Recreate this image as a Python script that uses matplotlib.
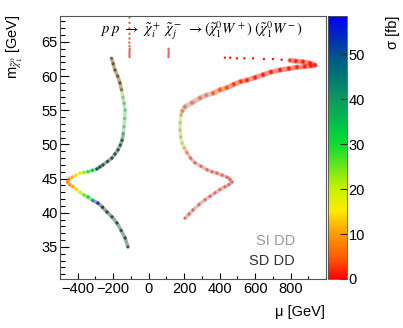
import numpy as np
import matplotlib
matplotlib.use("Agg")
import matplotlib.pyplot as plt
from matplotlib.colors import LinearSegmentedColormap, Normalize
from matplotlib.collections import LineCollection
from matplotlib.ticker import MultipleLocator, FixedLocator

plt.rcParams["font.family"] = ["Liberation Sans", "DejaVu Sans"]
plt.rcParams["mathtext.fontset"] = "stix"

# ---- data: (mu [GeV], m_chi [GeV], sigma [fb], DD flag)
# left branch (mu < 0), bottom to top
left_mu = [-117, -133, -155, -179, -207, -235, -260, -286, -315, -342, -365,
           -387, -407, -427, -445, -458, -450, -432, -410, -387, -365, -342,
           -318, -292, -275, -258, -232, -207, -190, -173, -160, -150, -143,
           -139, -135, -133, -138, -145, -153, -162, -175, -190, -200, -209]
left_m = [35.0, 36.3, 37.4, 38.5, 39.4, 40.1, 40.8, 41.4, 41.8, 42.3, 42.6,
          43.0, 43.4, 43.8, 44.1, 44.5, 44.9, 45.2, 45.5, 45.8, 45.9, 46.0,
          46.2, 46.4, 46.7, 47.0, 47.5, 48.0, 48.6, 49.2, 49.9, 50.6, 51.6,
          52.6, 53.8, 55.0, 56.0, 56.9, 58.0, 59.0, 60.0, 60.9, 61.8, 62.6]
left_sigma = [40, 40, 40, 40, 40, 48, 52, 55, 34, 30, 23,
              16, 13, 10, 9, 8, 9, 12, 15, 20, 24, 30,
              35, 52, 40, 40, 40, 40, 40, 40, 35, 32, 30,
              30, 30, 30, 30, 25, 10, 10, 10, 10, 10, 10]
left_dd = ["SD"] * 7 + [""] * 16 + ["SD"] * 9 + ["SI"] * 6 + ["SD"] * 6

# right branch (mu > 0), bottom to top up to the turn at ~54 GeV
right_mu = [205, 228, 250, 284, 318, 346, 374, 402, 430, 452, 470, 458, 442,
            414, 385, 357, 329, 295, 261, 236, 216, 200, 188, 181, 177, 178,
            182, 190]
right_m = [39.2, 39.8, 40.4, 41.2, 41.9, 42.4, 42.9, 43.4, 43.8, 44.1, 44.5,
           44.9, 45.2, 45.5, 45.8, 46.0, 46.3, 46.8, 47.3, 48.0, 48.8, 49.5,
           50.2, 51.1, 52.1, 53.2, 54.3, 54.9]
right_sigma = [1] * 20 + [6, 16, 20, 22, 22, 20, 10, 4]
right_dd = ["SI"] * 28

# red band running out to the tip at large mu
band_mu = [190, 205, 245, 290, 325, 363, 402, 440, 480, 520, 554, 600, 645,
           690, 741, 790, 836, 880, 915, 938, 910, 870, 830, 797]
band_m = [54.9, 55.5, 56.1, 56.8, 57.2, 57.5, 58.0, 58.3, 58.8, 59.2, 59.4,
          59.8, 60.2, 60.6, 60.9, 61.1, 61.3, 61.4, 61.5, 61.6, 61.9, 62.1,
          62.2, 62.3]
band_sigma = [4, 3, 2, 2, 3, 4, 4, 3, 2, 2, 1, 1, 1, 1, 1, 1, 1, 1, 1, 1,
              1, 1, 1, 1]
band_dd = ["SI"] * 5 + [""] * 19

# sparse points
sparse_mu = [750, 701, 650, 589, 540, 498, 460, 430,
             -108, -108, -108, -108, -107, -108, -109, -108, -108, -109,
             -108, -108,
             112, 112, 113, 112, 112]
sparse_m = [62.4, 62.5, 62.5, 62.6, 62.6, 62.6, 62.7, 62.7,
            62.8, 63.1, 63.4, 63.7, 64.0, 64.4, 64.9, 65.5, 66.2, 67.0,
            67.8, 68.6,
            62.8, 63.1, 63.4, 63.7, 64.0]
sparse_sigma = [1] * 8 + [1] * 17
sparse_dd = [""] * 8 + ["SI"] * 17

sigma_max = 58.5

# ROOT-like rainbow palette, red at 0 -> blue at top
palette_pos = [0, 5, 10, 15, 20, 25, 30, 35, 40, 45, 50, 55, 58.5]
palette_rgb = [(1.0, 0.0, 0.0), (1.0, 0.38, 0.0), (1.0, 0.6, 0.0),
               (1.0, 0.92, 0.0), (0.78, 0.95, 0.0), (0.42, 0.9, 0.1),
               (0.05, 0.86, 0.2), (0.0, 0.75, 0.3), (0.05, 0.6, 0.36),
               (0.0, 0.47, 0.45), (0.0, 0.32, 0.55), (0.0, 0.12, 0.8),
               (0.0, 0.0, 1.0)]
cmap = LinearSegmentedColormap.from_list(
    "rootrainbow", [(p / sigma_max, c) for p, c in zip(palette_pos, palette_rgb)])
norm = Normalize(0, sigma_max)

overlay = {"SI": (np.array([0.72, 0.70, 0.70]), 0.55),
           "SD": (np.array([0.18, 0.18, 0.18]), 0.7)}


def point_colors(sigma, dd):
    cols = cmap(norm(np.asarray(sigma, float)))
    for i, flag in enumerate(dd):
        if flag:
            grey, a = overlay[flag]
            cols[i, :3] = (1 - a) * cols[i, :3] + a * grey
    return cols


def draw_curve(ax, mu, m, sigma, dd, lw):
    cols = point_colors(sigma, dd)
    pts = np.column_stack([mu, m])
    segs = np.stack([pts[:-1], pts[1:]], axis=1)
    lc = LineCollection(segs, colors=cols[:-1], linewidths=lw, alpha=0.45,
                        capstyle="round")
    ax.add_collection(lc)
    ax.scatter(mu, m, s=4, c=cols, linewidths=0, alpha=0.9)


fig = plt.figure(figsize=(4.03, 3.28), dpi=100)
ax = fig.add_axes([60 / 403, 1 - 279 / 328, 266 / 403, 263 / 328])
cax = fig.add_axes([328 / 403, 1 - 279 / 328, 18.5 / 403, 263 / 328])

draw_curve(ax, left_mu, left_m, left_sigma, left_dd, 2.6)
draw_curve(ax, right_mu, right_m, right_sigma, right_dd, 2.6)
draw_curve(ax, band_mu, band_m, band_sigma, band_dd, 3.6)
ax.scatter(sparse_mu, sparse_m, s=3, c=point_colors(sparse_sigma, sparse_dd),
           linewidths=0)

ax.set_xlim(-500, 1000)
ax.set_ylim(30.3, 68.8)
ax.xaxis.set_major_locator(FixedLocator([-400, -200, 0, 200, 400, 600, 800]))
ax.xaxis.set_minor_locator(MultipleLocator(100))
ax.yaxis.set_major_locator(MultipleLocator(5))
ax.yaxis.set_minor_locator(MultipleLocator(1))
ax.tick_params(axis="both", which="both", direction="in", top=False,
               right=False, labelsize=10.5, colors="black", width=0.8)
ax.tick_params(axis="y", which="major", length=6.5, pad=1.5)
ax.tick_params(axis="y", which="minor", length=3.5)
ax.tick_params(axis="x", which="major", length=4.0, pad=2)
ax.tick_params(axis="x", which="minor", length=2.0)
for sp in ax.spines.values():
    sp.set_color("#555555")
    sp.set_linewidth(0.8)

ax.text(0.15, 0.943,
        r"$p\ p\ \rightarrow\ \tilde{\chi}_i^+\ \tilde{\chi}_j^-\ \rightarrow"
        r"(\tilde{\chi}_1^0 W^+)\ (\tilde{\chi}_1^0 W^-)$",
        transform=ax.transAxes, ha="left", va="center", fontsize=10.5)
ax.text(0.883, 0.1445, "SI DD", color="#999999", fontsize=10.5,
        transform=ax.transAxes, ha="right", va="center")
ax.text(0.883, 0.068, "SD DD", color="#333333", fontsize=10.5,
        transform=ax.transAxes, ha="right", va="center")

fig.text(15 / 403, 1 - 15 / 328, r"m$_{\tilde{\chi}_1^0}$ [GeV]", rotation=90,
         ha="center", va="top", fontsize=10.5)
fig.text(325 / 403, 1 - 312 / 328, "μ [GeV]", ha="right", va="center",
         fontsize=10.5)
fig.text(393 / 403, 1 - 16 / 328, "σ [fb]", rotation=90, ha="center",
         va="top", fontsize=10.5)

cb = fig.colorbar(plt.cm.ScalarMappable(norm=norm, cmap=cmap), cax=cax)
cb.outline.set_linewidth(0.6)
cb.outline.set_edgecolor("#555555")
cb.set_ticks([0, 10, 20, 30, 40, 50])
cax.tick_params(direction="in", length=5, width=0.8, labelsize=10.5, pad=1.5,
                color="#333333")

fig.savefig("out.png", dpi=100)
